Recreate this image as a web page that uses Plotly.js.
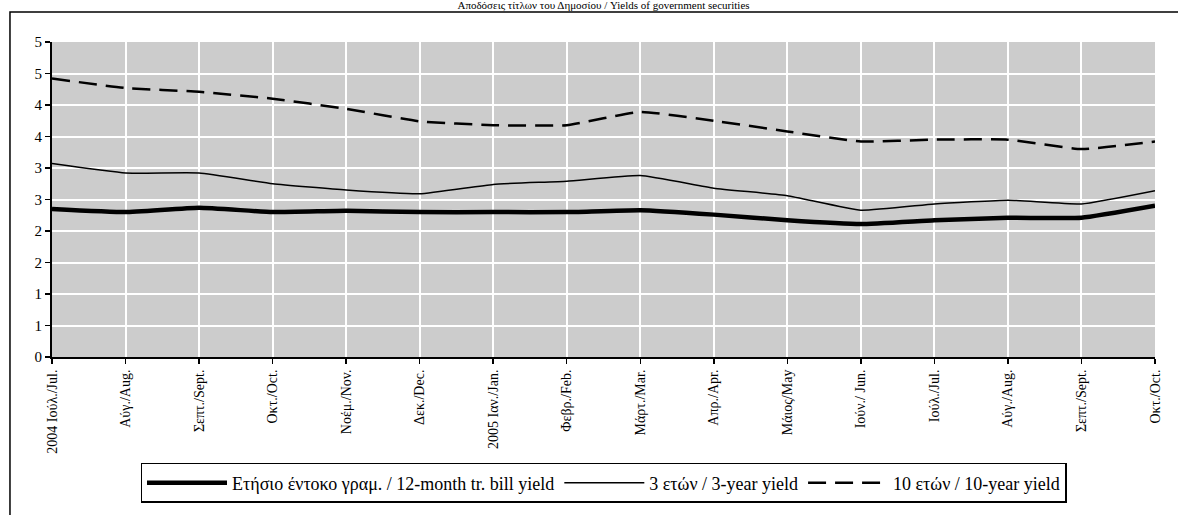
<!DOCTYPE html>
<html>
<head>
<meta charset="utf-8">
<script src="https://cdn.plot.ly/plotly-3.0.1.min.js"></script>
<style>html,body{margin:0;padding:0;background:#fff;}#chart{width:1178px;height:515px;}</style>
</head>
<body>
<div id="chart"></div>
<script>
const categories = ["2004 Ιούλ./Jul.", "Αύγ./Aug.", "Σεπτ./Sept.", "Οκτ./Oct.", "Νοέμ./Nov.", "Δεκ./Dec.", "2005 Ιαν./Jan.", "Φεβρ./Feb.", "Μάρτ./Mar.", "Απρ./Apr.", "Μάιος/May", "Ιούν./ Jun.", "Ιούλ./Jul.", "Αύγ./Aug.", "Σεπτ./Sept.", "Οκτ./Oct."];
const billYield = [2.35, 2.30, 2.37, 2.30, 2.32, 2.30, 2.30, 2.30, 2.33, 2.26, 2.17, 2.11, 2.17, 2.21, 2.21, 2.40];
const yield3y = [3.07, 2.92, 2.92, 2.75, 2.65, 2.59, 2.74, 2.79, 2.88, 2.68, 2.56, 2.33, 2.43, 2.49, 2.43, 2.64];
const yield10y = [4.42, 4.27, 4.21, 4.10, 3.94, 3.74, 3.68, 3.68, 3.89, 3.75, 3.58, 3.42, 3.45, 3.45, 3.30, 3.42];
const seriesNames = ["Ετήσιο έντοκο γραμ. / 12-month tr. bill yield", "3 ετών / 3-year yield", "10 ετών / 10-year yield"];
const yTickVals = [0, 0.5, 1, 1.5, 2, 2.5, 3, 3.5, 4, 4.5, 5];
const yTickText = ["0", "1", "1", "2", "2", "3", "3", "4", "4", "5", "5"];
const titleText = "Αποδόσεις τίτλων του Δημοσίου / Yields of government securities";

const xIdx = categories.map((c, i) => i);
const serif = "'Liberation Serif', 'Times New Roman', 'DejaVu Serif', serif";

const traces = [
  {x: xIdx, y: billYield, name: seriesNames[0], type: "scatter", mode: "lines",
   line: {color: "#000", width: 4.5, shape: "spline", smoothing: 0.4}},
  {x: xIdx, y: yield3y, name: seriesNames[1], type: "scatter", mode: "lines",
   line: {color: "#000", width: 1.5, shape: "spline", smoothing: 0.4}},
  {x: xIdx, y: yield10y, name: seriesNames[2], type: "scatter", mode: "lines",
   line: {color: "#000", width: 2.5, dash: "18px,9px", shape: "spline", smoothing: 0.4}}
];

const layout = {
  width: 1178, height: 515,
  margin: {l: 52, r: 23, t: 42, b: 158},
  paper_bgcolor: "#fff",
  plot_bgcolor: "#cccccc",
  font: {family: serif, color: "#000", size: 13},
  title: {text: titleText, font: {family: serif, size: 11, color: "#000"},
          x: 0.5, xref: "paper", y: 0.998, yref: "container", yanchor: "top"},
  xaxis: {
    range: [0, 15], tickmode: "array", tickvals: xIdx, ticktext: categories,
    tickangle: -90, tickfont: {family: serif, size: 14},
    showgrid: true, gridcolor: "#fff", gridwidth: 2,
    showline: true, linecolor: "#000", linewidth: 2,
    ticks: "outside", ticklen: 5, tickwidth: 1.5, tickcolor: "#000",
    zeroline: false, fixedrange: true
  },
  yaxis: {
    range: [0, 5], tickmode: "array", tickvals: yTickVals, ticktext: yTickText,
    tickfont: {family: serif, size: 15},
    showgrid: true, gridcolor: "#fff", gridwidth: 2,
    showline: true, linecolor: "#000", linewidth: 2,
    ticks: "outside", ticklen: 5, tickwidth: 1.5, tickcolor: "#000",
    zeroline: false, fixedrange: true
  },
  showlegend: true,
  legend: {
    orientation: "h", x: 0.5, xanchor: "center", y: -0.3365, yanchor: "top",
    bgcolor: "#fff", bordercolor: "#000", borderwidth: 1.5,
    font: {family: serif, size: 18, color: "#000"},
    itemwidth: 80, traceorder: "normal"
  },
  shapes: [
    {type: "rect", xref: "paper", yref: "paper",
     x0: -0.0381, x1: 1.04, y0: -0.56, y1: 1.0952,
     line: {color: "#000", width: 1.5}, fillcolor: "rgba(0,0,0,0)", layer: "above"}
  ]
};

Plotly.newPlot("chart", traces, layout, {staticPlot: true, displayModeBar: false});
</script>
</body>
</html>
